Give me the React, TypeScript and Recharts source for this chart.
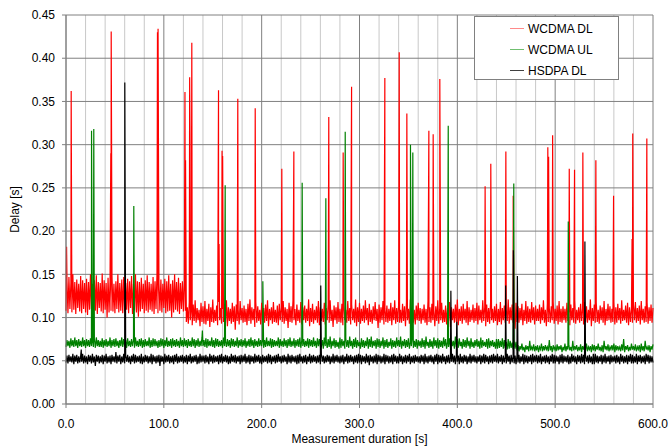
import { CartesianGrid, Line, LineChart, XAxis, YAxis } from 'recharts';

// band samples every 1 s from t = 0, values in ms
const BAND_STEP = 1;

const dlBand = [
  // 0..122 s
  108, 142, 105, 147, 110, 140, 106, 150, 109, 141, 104, 144, 111, 139, 107, 148, 105, 143, 110, 140,
  106, 145, 103, 141, 109, 150, 110, 139, 105, 143, 108, 149, 104, 141, 111, 140, 107, 151, 105, 143,
  109, 140, 100, 146, 106, 141, 108, 149, 107, 139, 105, 142, 110, 150, 106, 140, 108, 144, 105, 147,
  107, 140, 109, 145, 105, 142, 111, 148, 104, 139, 108, 150, 106, 142, 101, 141, 107, 146, 110, 139,
  105, 143, 108, 149, 106, 141, 109, 139, 107, 147, 104, 142, 110, 150, 105, 140, 108, 144, 106, 139,
  111, 145, 105, 142, 107, 149, 108, 139, 100, 143, 106, 150, 109, 141, 107, 146, 104, 140, 110, 142,
  107, 141, 108,
  // 123..600 s
  95, 112, 93, 118, 97, 110, 91, 115, 96, 120, 94, 111, 97, 109, 90, 117, 95, 113, 93, 119,
  92, 110, 96, 116, 89, 112, 95, 121, 94, 109, 96, 114, 91, 118, 97, 111, 93, 110, 95, 116,
  94, 120, 90, 112, 96, 110, 93, 117, 95, 113, 86, 115, 96, 109, 92, 119, 97, 111, 94, 114,
  95, 110, 91, 116, 96, 121, 93, 112, 97, 110, 89, 118, 94, 113, 96, 109, 92, 117, 97, 111,
  94, 115, 96, 120, 90, 110, 97, 112, 93, 118, 95, 109, 94, 114, 91, 116, 97, 111, 95, 119,
  93, 112, 96, 110, 88, 117, 95, 113, 94, 120, 97, 110, 91, 115, 96, 109, 94, 118, 92, 112,
  97, 114, 94, 110, 96, 121, 90, 111, 95, 116, 93, 109, 97, 113, 94, 119, 91, 112, 96, 110,
  95, 117, 92, 111, 97, 115, 94, 120, 96, 109, 89, 114, 97, 112, 93, 118, 95, 110, 94, 116,
  91, 113, 97, 109, 94, 119, 96, 111, 92, 115, 97, 110, 94, 121, 90, 112, 95, 117, 93, 110,
  96, 114, 94, 120, 97, 111, 91, 116, 95, 109, 93, 113, 97, 118, 96, 110, 88, 115, 94, 112,
  97, 119, 92, 110, 95, 114, 94, 110, 96, 117, 91, 112, 97, 120, 93, 111, 95, 115, 94, 109,
  94, 116, 96, 113, 90, 118, 97, 110, 93, 121, 95, 112, 94, 109, 92, 114, 97, 117, 96, 111,
  93, 110, 97, 115, 94, 110, 91, 119, 95, 112, 94, 116, 97, 109, 90, 113, 96, 120, 93, 111,
  97, 117, 94, 109, 95, 114, 92, 111, 96, 118, 89, 112, 97, 110, 94, 115, 95, 121, 91, 110,
  96, 113, 93, 116, 97, 110, 94, 119, 91, 112, 95, 109, 97, 115, 94, 111, 96, 117, 92, 114,
  97, 109, 94, 120, 96, 112, 90, 115, 95, 111, 93, 118, 97, 110, 94, 113, 96, 116, 91, 110,
  95, 118, 92, 111, 97, 114, 94, 109, 96, 121, 93, 112, 97, 115, 94, 110, 87, 117, 95, 113,
  94, 111, 97, 116, 91, 109, 96, 119, 93, 113, 95, 110, 94, 118, 97, 112, 92, 114, 96, 110,
  96, 115, 93, 112, 97, 120, 94, 109, 90, 116, 95, 111, 94, 113, 97, 118, 93, 110, 96, 114,
  92, 119, 95, 110, 94, 113, 97, 110, 94, 117, 96, 112, 91, 115, 97, 111, 94, 120, 93, 109,
  97, 112, 94, 116, 96, 110, 92, 118, 95, 113, 94, 109, 97, 121, 90, 111, 96, 115, 94, 117,
  95, 109, 93, 114, 97, 112, 94, 119, 91, 110, 96, 116, 97, 113, 94, 110, 95, 118, 92, 112,
  94, 116, 97, 111, 93, 120, 96, 109, 97, 114, 94, 117, 91, 112, 95, 110, 94, 115, 97, 118,
  94, 111, 96, 114, 92, 119, 97, 110, 94, 113, 95, 117, 93, 112, 96, 115, 94, 111,
];

const ulBand = [
  // 0..260 s
  66, 74, 67, 73, 65, 76, 67, 74, 66, 77, 67, 74, 65, 75, 67, 73, 66, 77, 67, 74,
  65, 75, 67, 74, 66, 76, 67, 73, 66, 75, 65, 77, 67, 74, 66, 73, 66, 76, 65, 74,
  67, 75, 66, 73, 67, 77, 65, 74, 67, 75, 66, 76, 67, 73, 65, 74, 67, 77, 66, 75,
  67, 74, 65, 76, 67, 73, 66, 75, 67, 74, 65, 77, 67, 73, 66, 75, 67, 76, 65, 74,
  66, 75, 67, 73, 67, 77, 65, 74, 66, 76, 67, 75, 67, 73, 65, 74, 66, 76, 67, 75,
  65, 74, 67, 77, 66, 73, 67, 75, 65, 76, 67, 74, 66, 75, 67, 73, 65, 77, 67, 74,
  66, 76, 67, 74, 65, 75, 67, 73, 66, 77, 67, 75, 65, 74, 67, 76, 66, 73, 67, 77,
  67, 74, 66, 76, 65, 75, 67, 73, 67, 77, 66, 74, 65, 76, 67, 75, 66, 73, 67, 74,
  65, 77, 67, 73, 66, 75, 67, 74, 65, 76, 67, 75, 66, 73, 67, 77, 65, 74, 67, 75,
  66, 74, 67, 76, 65, 73, 67, 75, 66, 77, 67, 74, 65, 75, 67, 73, 66, 76, 67, 74,
  67, 75, 65, 74, 66, 77, 67, 73, 67, 76, 65, 75, 66, 74, 67, 73, 67, 77, 65, 75,
  67, 73, 66, 76, 67, 74, 65, 75, 67, 77, 66, 73, 67, 76, 65, 74, 67, 75, 66, 77,
  65, 74, 67, 75, 66, 73, 67, 76, 65, 75, 67, 74, 66, 77, 67, 73, 65, 76, 67, 75,
  66,
  // 261..460 s
  66, 74, 64, 77, 67, 73, 65, 75, 66, 78, 64, 73, 67, 76, 65, 74, 66, 72, 64, 77,
  65, 75, 67, 73, 64, 76, 66, 74, 65, 78, 67, 73, 64, 75, 66, 77, 65, 74, 67, 72,
  64, 76, 66, 74, 65, 73, 67, 77, 64, 75, 66, 78, 65, 73, 67, 74, 64, 76, 66, 75,
  65, 73, 67, 77, 64, 74, 66, 75, 65, 72, 67, 76, 64, 74, 66, 73, 65, 77, 67, 74,
  66, 78, 64, 73, 67, 75, 65, 74, 66, 76, 64, 72, 67, 77, 65, 73, 66, 75, 64, 74,
  67, 73, 65, 76, 66, 74, 64, 78, 67, 72, 65, 75, 66, 73, 64, 77, 67, 74, 65, 76,
  64, 74, 66, 73, 65, 77, 67, 75, 64, 72, 66, 76, 65, 74, 67, 73, 64, 78, 66, 75,
  65, 76, 67, 72, 64, 75, 66, 74, 65, 77, 67, 73, 64, 76, 66, 72, 65, 74, 67, 75,
  66, 73, 64, 77, 65, 74, 67, 72, 66, 75, 64, 76, 65, 73, 67, 74, 66, 72, 64, 75,
  64, 75, 65, 73, 66, 76, 64, 74, 65, 72, 63, 75, 64, 73, 65, 71, 63, 74, 64, 72,
  // 461..600 s
  62, 68, 61, 67, 63, 70, 62, 66, 60, 68, 63, 67, 61, 73, 62, 66, 63, 69, 61, 67,
  62, 68, 60, 66, 63, 70, 61, 67, 62, 68, 63, 66, 61, 74, 62, 67, 60, 68, 63, 66,
  61, 69, 62, 67, 63, 68, 60, 66, 62, 70, 61, 67, 63, 68, 62, 66, 61, 73, 62, 67,
  63, 68, 61, 66, 62, 69, 60, 67, 63, 68, 62, 70, 61, 66, 63, 67, 60, 69, 62, 68,
  61, 67, 63, 70, 62, 66, 61, 68, 60, 73, 63, 67, 62, 69, 61, 66, 63, 68, 62, 70,
  60, 68, 62, 67, 63, 66, 61, 69, 62, 75, 60, 67, 63, 68, 61, 66, 62, 70, 63, 67,
  62, 69, 61, 66, 63, 68, 60, 70, 62, 67, 61, 73, 63, 66, 62, 68, 60, 67, 63, 69,
];

const hsBand = [
  48, 56, 47, 57, 49, 55, 48, 58, 46, 56, 49, 57, 47, 55, 48, 56, 49, 58, 47, 56,
  48, 55, 46, 57, 49, 56, 47, 58, 48, 55, 44, 57, 49, 56, 47, 55, 48, 57, 46, 56,
  49, 58, 47, 55, 48, 56, 46, 57, 49, 55, 48, 60, 47, 56, 49, 57, 46, 55, 48, 58,
  47, 56, 49, 57, 48, 55, 46, 56, 49, 58, 47, 57, 48, 55, 49, 56, 47, 58, 46, 55,
  48, 57, 49, 56, 47, 55, 48, 58, 46, 57, 49, 55, 47, 56, 48, 57, 44, 56, 49, 55,
  46, 58, 48, 56, 49, 57, 47, 55, 48, 56, 46, 57, 49, 58, 47, 55, 48, 56, 49, 57,
  47, 55, 48, 57, 46, 56, 49, 58, 47, 55, 48, 56, 49, 57, 46, 55, 47, 58, 48, 56,
  49, 56, 47, 57, 48, 55, 46, 58, 49, 56, 47, 57, 48, 55, 49, 56, 46, 57, 48, 58,
  47, 55, 49, 57, 48, 56, 46, 55, 47, 58, 49, 56, 48, 57, 47, 55, 49, 56, 46, 57,
  48, 56, 49, 58, 47, 55, 48, 57, 46, 56, 49, 55, 47, 58, 48, 56, 49, 57, 47, 55,
  46, 57, 48, 55, 49, 56, 47, 58, 48, 57, 46, 55, 49, 56, 47, 57, 48, 58, 49, 55,
  47, 56, 48, 57, 49, 55, 46, 58, 48, 56, 47, 57, 49, 55, 48, 56, 46, 57, 47, 58,
  49, 55, 47, 56, 48, 57, 46, 55, 49, 58, 47, 56, 48, 57, 49, 55, 47, 56, 48, 57,
  46, 58, 49, 56, 47, 55, 48, 57, 49, 56, 46, 55, 48, 58, 47, 56, 49, 57, 48, 55,
  47, 56, 48, 57, 46, 55, 49, 58, 47, 56, 48, 57, 49, 55, 46, 56, 48, 57, 47, 58,
  48, 57, 46, 56, 49, 55, 47, 58, 48, 56, 45, 57, 49, 55, 47, 56, 48, 58, 46, 57,
  49, 56, 47, 55, 48, 58, 46, 57, 49, 56, 47, 55, 48, 57, 46, 58, 49, 56, 47, 55,
  47, 58, 49, 56, 46, 55, 48, 57, 47, 56, 49, 58, 46, 55, 48, 56, 47, 57, 49, 55,
  48, 55, 47, 57, 49, 56, 46, 58, 48, 55, 47, 56, 49, 57, 48, 55, 46, 57, 49, 58,
  46, 57, 48, 56, 47, 58, 49, 55, 46, 56, 48, 57, 47, 55, 49, 58, 48, 56, 46, 57,
  49, 56, 46, 58, 48, 55, 47, 57, 49, 56, 46, 55, 48, 58, 47, 56, 49, 57, 48, 55,
  47, 55, 49, 57, 46, 56, 48, 58, 47, 57, 49, 55, 46, 56, 48, 57, 47, 58, 49, 56,
  48, 58, 47, 55, 49, 57, 46, 56, 48, 55, 47, 58, 49, 56, 46, 57, 48, 55, 47, 56,
  46, 56, 48, 57, 47, 55, 49, 58, 46, 57, 48, 56, 47, 55, 49, 57, 46, 58, 48, 56,
  49, 57, 47, 56, 48, 58, 46, 55, 49, 56, 47, 57, 48, 55, 46, 56, 49, 58, 47, 57,
  47, 56, 49, 55, 46, 57, 48, 58, 47, 56, 49, 55, 48, 57, 46, 55, 47, 58, 49, 56,
  48, 55, 46, 57, 49, 56, 47, 58, 48, 57, 46, 55, 49, 56, 47, 57, 48, 55, 46, 58,
  46, 58, 48, 56, 47, 55, 49, 57, 46, 56, 48, 58, 47, 55, 49, 56, 46, 57, 48, 55,
  49, 56, 47, 57, 48, 55, 46, 58, 49, 56, 47, 55, 48, 57, 46, 56, 49, 58, 47, 57,
  47, 55, 48, 58, 46, 56, 49, 57, 47, 55, 48, 56, 46, 58, 49, 57, 47, 56, 48, 55,
  48,
];

// isolated delay spikes: time [s] and delay [ms]
const dlSpikeT = [
  0.6, 5.3, 45.8, 46.2, 46.7, 93.5, 94.1, 121.6, 122.2, 126.4, 126.8, 128.6, 155.9, 156.5, 159.5,
  160.1, 175.6, 193.4, 220.6, 232.9, 268.6, 283.3, 291.6, 291.9, 325.9, 340.6, 348.4, 370.9,
  375.3, 382.1, 428.4, 434.2, 449.6, 457.1, 492.5, 493.3, 497.4, 514.4, 519.8, 528.3, 541.6,
  559.7, 578.6, 579.3, 593.7,
];
const dlSpikeV = [
  182, 362, 290, 431, 262, 430, 434, 361, 282, 378, 303, 418, 363, 185, 293,
  287, 353, 342, 272, 292, 332, 291, 290, 367, 377, 407, 336, 316,
  312, 376, 252, 278, 292, 241, 297, 286, 311, 272, 271, 291, 282,
  241, 191, 313, 307,
];

const ulSpikeT = [26.1, 28.4, 69.3, 139.4, 162.7, 201.2, 241.4, 265.6, 285.4, 352.1, 354.5, 390.7, 457.7, 513.4];
const ulSpikeV = [316, 318, 229, 85, 253, 142, 256, 238, 315, 300, 291, 322, 255, 211];

const hsSpikeT = [15.6, 60.1, 260.4, 393.4, 399.4, 449.4, 457.3, 461.4, 530.4];
const hsSpikeV = [63, 372, 137, 131, 95, 137, 178, 148, 188];

const xTicks = [0, 100, 200, 300, 400, 500, 600];
const xMinor = [20, 40, 60, 80, 120, 140, 160, 180, 220, 240, 260, 280, 320, 340, 360, 380, 420, 440, 460, 480, 520, 540, 560, 580];
const yTicks = [0, 0.05, 0.1, 0.15, 0.2, 0.25, 0.3, 0.35, 0.4, 0.45];

const seriesNames = ['WCDMA DL', 'WCDMA UL', 'HSDPA DL'];
const seriesColors = ['#ff0000', '#008000', '#000000'];
const legendColors = ['#ff8a8a', '#70bf70', '#404040'];

function buildSeries(band: number[], spikeT: number[], spikeV: number[]) {
  const pts = band.map((v, i) => ({ t: i * BAND_STEP, v: v / 1000 }));
  spikeT.forEach((t, i) => pts.push({ t, v: spikeV[i] / 1000 }));
  return pts.sort((a, b) => a.t - b.t);
}

const dlData = buildSeries(dlBand, dlSpikeT, dlSpikeV);
const ulData = buildSeries(ulBand, ulSpikeT, ulSpikeV);
const hsData = buildSeries(hsBand, hsSpikeT, hsSpikeV);

const FONT = '"Liberation Sans", Arial, sans-serif';

function LegendBox() {
  return (
    <div
      style={{
        position: 'absolute',
        left: 474,
        top: 16,
        width: 143,
        height: 62,
        border: '1px solid #808080',
        background: '#fff',
        fontFamily: FONT,
        fontSize: 12,
        color: '#000',
      }}
    >
      {seriesNames.map((name, i) => (
        <div key={name} style={{ height: 21, display: 'flex', alignItems: 'center', marginTop: i === 0 ? 1 : 0 }}>
          <div style={{ marginLeft: 35, width: 14, height: 1, background: legendColors[i] }} />
          <span style={{ marginLeft: 4 }}>{name}</span>
        </div>
      ))}
    </div>
  );
}

export default function App() {
  return (
    <div style={{ position: 'absolute', left: 0, top: 0, width: 669, height: 446, background: '#fff', fontFamily: FONT }}>
      <LineChart width={669} height={446} margin={{ top: 15, right: 16, bottom: 0, left: 0 }}>
        <CartesianGrid horizontal={false} verticalValues={xMinor} stroke="#c8c8c8" />
        <CartesianGrid verticalValues={xTicks} horizontalValues={yTicks} stroke="#808080" />
        <XAxis
          type="number"
          dataKey="t"
          domain={[0, 600]}
          ticks={xTicks}
          interval={0}
          height={42}
          tickSize={4}
          tickMargin={11}
          tickFormatter={(v: number) => v.toFixed(1)}
          tick={{ fill: '#000', fontSize: 12, fontFamily: FONT }}
          stroke="#808080"
          label={{ value: 'Measurement duration [s]', position: 'insideBottom', offset: 3, fill: '#000', fontSize: 12, fontFamily: FONT }}
        />
        <YAxis
          type="number"
          domain={[0, 0.45]}
          ticks={yTicks}
          interval={0}
          width={66}
          allowDataOverflow
          tickSize={4}
          tickMargin={7}
          tickFormatter={(v: number) => v.toFixed(2)}
          tick={{ fill: '#000', fontSize: 12, fontFamily: FONT }}
          stroke="#808080"
          label={{ value: 'Delay [s]', angle: -90, position: 'insideLeft', offset: 15, fill: '#000', fontSize: 12, fontFamily: FONT, style: { textAnchor: 'middle' } }}
        />
        <Line data={dlData} dataKey="v" name={seriesNames[0]} type="linear" stroke={seriesColors[0]} strokeWidth={1.2} dot={false} activeDot={false} isAnimationActive={false} />
        <Line data={ulData} dataKey="v" name={seriesNames[1]} type="linear" stroke={seriesColors[1]} strokeWidth={1.2} dot={false} activeDot={false} isAnimationActive={false} />
        <Line data={hsData} dataKey="v" name={seriesNames[2]} type="linear" stroke={seriesColors[2]} strokeWidth={1.2} dot={false} activeDot={false} isAnimationActive={false} />
      </LineChart>
      <LegendBox />
    </div>
  );
}
